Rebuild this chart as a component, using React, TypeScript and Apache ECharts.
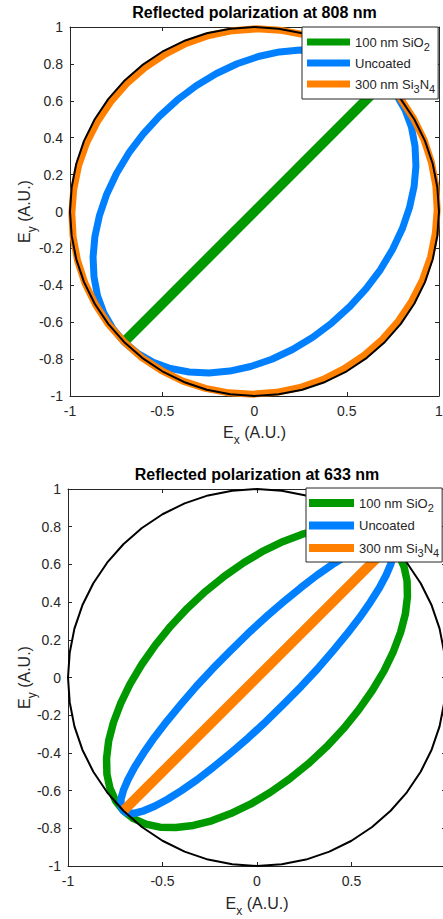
import { useEffect, useRef } from 'react';
import * as echarts from 'echarts';

type Pt = [number, number];

// ---- data ----
const titles = ['Reflected polarization at 808 nm', 'Reflected polarization at 633 nm'];
const seriesNames = ['100 nm SiO2', 'Uncoated', '300 nm Si3N4'];
const legendLabels = ['100 nm SiO{s|2}', 'Uncoated', '300 nm Si{s|3}N{s|4}'];
const seriesColors = ['#009900', '#0080ff', '#ff8000'];
const xTickStep = 0.5;
const yTickStep = 0.2;
const axisMin = -1;
const axisMax = 1;

// reference unit circle (black)
const unitCircle: Pt[] = [
  [1, 0], [0.991, 0.131], [0.966, 0.259], [0.924, 0.383], [0.866, 0.5], [0.793, 0.609],
  [0.707, 0.707], [0.609, 0.793], [0.5, 0.866], [0.383, 0.924], [0.259, 0.966], [0.131, 0.991],
  [0, 1], [-0.131, 0.991], [-0.259, 0.966], [-0.383, 0.924], [-0.5, 0.866], [-0.609, 0.793],
  [-0.707, 0.707], [-0.793, 0.609], [-0.866, 0.5], [-0.924, 0.383], [-0.966, 0.259], [-0.991, 0.131],
  [-1, 0], [-0.991, -0.131], [-0.966, -0.259], [-0.924, -0.383], [-0.866, -0.5], [-0.793, -0.609],
  [-0.707, -0.707], [-0.609, -0.793], [-0.5, -0.866], [-0.383, -0.924], [-0.259, -0.966], [-0.131, -0.991],
  [0, -1], [0.131, -0.991], [0.259, -0.966], [0.383, -0.924], [0.5, -0.866], [0.609, -0.793],
  [0.707, -0.707], [0.793, -0.609], [0.866, -0.5], [0.924, -0.383], [0.966, -0.259], [0.991, -0.131],
];

// 808 nm
const sio2At808: Pt[] = [[-0.707, -0.707], [0.707, 0.707]];
const uncoatedAt808: Pt[] = [
  [0.707, 0.707], [0.634, 0.768], [0.549, 0.817], [0.456, 0.851], [0.354, 0.87], [0.247, 0.875],
  [0.135, 0.865], [0.021, 0.84], [-0.094, 0.801], [-0.206, 0.748], [-0.316, 0.682], [-0.419, 0.604],
  [-0.516, 0.516], [-0.604, 0.419], [-0.682, 0.316], [-0.748, 0.206], [-0.801, 0.094], [-0.84, -0.021],
  [-0.865, -0.135], [-0.875, -0.247], [-0.87, -0.354], [-0.851, -0.456], [-0.817, -0.549], [-0.768, -0.634],
  [-0.707, -0.707], [-0.634, -0.768], [-0.549, -0.817], [-0.456, -0.851], [-0.354, -0.87], [-0.247, -0.875],
  [-0.135, -0.865], [-0.021, -0.84], [0.094, -0.801], [0.206, -0.748], [0.316, -0.682], [0.419, -0.604],
  [0.516, -0.516], [0.604, -0.419], [0.682, -0.316], [0.748, -0.206], [0.801, -0.094], [0.84, 0.021],
  [0.865, 0.135], [0.875, 0.247], [0.87, 0.354], [0.851, 0.456], [0.817, 0.549], [0.768, 0.634],
];
const si3n4At808: Pt[] = [
  [0.707, 0.707], [0.611, 0.792], [0.504, 0.862], [0.388, 0.919], [0.266, 0.959], [0.139, 0.983],
  [0.01, 0.99], [-0.119, 0.98], [-0.247, 0.954], [-0.37, 0.911], [-0.486, 0.852], [-0.595, 0.779],
  [-0.693, 0.693], [-0.779, 0.595], [-0.852, 0.486], [-0.911, 0.37], [-0.954, 0.247], [-0.98, 0.119],
  [-0.99, -0.01], [-0.983, -0.139], [-0.959, -0.266], [-0.919, -0.388], [-0.862, -0.504], [-0.792, -0.611],
  [-0.707, -0.707], [-0.611, -0.792], [-0.504, -0.862], [-0.388, -0.919], [-0.266, -0.959], [-0.139, -0.983],
  [-0.01, -0.99], [0.119, -0.98], [0.247, -0.954], [0.37, -0.911], [0.486, -0.852], [0.595, -0.779],
  [0.693, -0.693], [0.779, -0.595], [0.852, -0.486], [0.911, -0.37], [0.954, -0.247], [0.98, -0.119],
  [0.99, 0.01], [0.983, 0.139], [0.959, 0.266], [0.919, 0.388], [0.862, 0.504], [0.792, 0.611],
];

// 633 nm
const sio2At633: Pt[] = [
  [0.707, 0.707], [0.653, 0.749], [0.588, 0.778], [0.513, 0.794], [0.429, 0.796], [0.337, 0.785],
  [0.24, 0.76], [0.139, 0.722], [0.035, 0.672], [-0.069, 0.61], [-0.172, 0.538], [-0.272, 0.457],
  [-0.368, 0.368], [-0.457, 0.272], [-0.538, 0.172], [-0.61, 0.069], [-0.672, -0.035], [-0.722, -0.139],
  [-0.76, -0.24], [-0.785, -0.337], [-0.796, -0.429], [-0.794, -0.513], [-0.778, -0.588], [-0.749, -0.653],
  [-0.707, -0.707], [-0.653, -0.749], [-0.588, -0.778], [-0.513, -0.794], [-0.429, -0.796], [-0.337, -0.785],
  [-0.24, -0.76], [-0.139, -0.722], [-0.035, -0.672], [0.069, -0.61], [0.172, -0.538], [0.272, -0.457],
  [0.368, -0.368], [0.457, -0.272], [0.538, -0.172], [0.61, -0.069], [0.672, 0.035], [0.722, 0.139],
  [0.76, 0.24], [0.785, 0.337], [0.796, 0.429], [0.794, 0.513], [0.778, 0.588], [0.749, 0.653],
];
const uncoatedAt633: Pt[] = [
  [0.707, 0.707], [0.683, 0.72], [0.646, 0.72], [0.599, 0.707], [0.542, 0.683], [0.475, 0.647],
  [0.4, 0.6], [0.318, 0.543], [0.231, 0.476], [0.14, 0.401], [0.046, 0.32], [-0.048, 0.233],
  [-0.141, 0.141], [-0.233, 0.048], [-0.32, -0.046], [-0.401, -0.14], [-0.476, -0.231], [-0.543, -0.318],
  [-0.6, -0.4], [-0.647, -0.475], [-0.683, -0.542], [-0.707, -0.599], [-0.72, -0.646], [-0.72, -0.683],
  [-0.707, -0.707], [-0.683, -0.72], [-0.646, -0.72], [-0.599, -0.707], [-0.542, -0.683], [-0.475, -0.647],
  [-0.4, -0.6], [-0.318, -0.543], [-0.231, -0.476], [-0.14, -0.401], [-0.046, -0.32], [0.048, -0.233],
  [0.141, -0.141], [0.233, -0.048], [0.32, 0.046], [0.401, 0.14], [0.476, 0.231], [0.543, 0.318],
  [0.6, 0.4], [0.647, 0.475], [0.683, 0.542], [0.707, 0.599], [0.72, 0.646], [0.72, 0.683],
];
const si3n4At633: Pt[] = [[-0.707, -0.707], [0.707, 0.707]];

// ---- styling / layout ----
const FONT = "'Liberation Sans', Arial, Helvetica, sans-serif";
const TEXT = '#262626';
const AXIS = '#262626';

const closeLoop = (pts: Pt[]): Pt[] => (pts.length > 2 ? [...pts, pts[0]] : pts);

const panels = [
  {
    title: titles[0],
    titleLeft: 254.5,
    titleTop: 4.5,
    grid: { left: 70, top: 27, width: 369, height: 369 },
    xNameGap: 27,
    yNameGap: 36.5,
    showMaxX: true,
    legend: { left: 302, top: 27, padding: [5, 3, 5, 5], itemGap: 1, itemWidth: 43, itemHeight: 7 },
    curves: [sio2At808, uncoatedAt808, si3n4At808],
    widths: [10, 7, 7],
  },
  {
    title: titles[1],
    titleLeft: 257,
    titleTop: 466.5,
    grid: { left: 68, top: 489, width: 378, height: 377 },
    xNameGap: 28,
    yNameGap: 35,
    showMaxX: false,
    legend: { left: 306, top: 488, padding: [5, 3, 4, 3], itemGap: 2.5, itemWidth: 45, itemHeight: 8 },
    curves: [sio2At633, uncoatedAt633, si3n4At633],
    widths: [7.5, 7.5, 10],
  },
];

const nameStyle = {
  fontSize: 16,
  color: TEXT,
  fontFamily: FONT,
  rich: {
    m: { fontSize: 16, lineHeight: 18, color: TEXT, fontFamily: FONT },
    s: { fontSize: 12, lineHeight: 12, padding: [15, 0, 0, 0], color: TEXT, fontFamily: FONT },
  },
};

function buildOption() {
  const grid: any[] = [];
  const xAxis: any[] = [];
  const yAxis: any[] = [];
  const title: any[] = [];
  const legend: any[] = [];
  const series: any[] = [];

  const baseAxis = (gi: number, interval: number) => ({
    type: 'value',
    gridIndex: gi,
    min: axisMin,
    max: axisMax,
    interval,
    splitLine: { show: false },
    axisLine: { show: true, onZero: false, lineStyle: { color: AXIS, width: 1 } },
    axisTick: { show: true, inside: true, length: 4, lineStyle: { color: AXIS, width: 1 } },
  });

  panels.forEach((p, gi) => {
    grid.push({ ...p.grid, containLabel: false, outerBoundsMode: 'none' });
    title.push({
      text: p.title,
      left: p.titleLeft,
      top: p.titleTop,
      textAlign: 'center',
      padding: 0,
      textStyle: { fontSize: 16, fontWeight: 'bold', color: '#000', fontFamily: FONT },
    });
    xAxis.push({
      ...baseAxis(gi, xTickStep),
      position: 'bottom',
      axisLabel: {
        show: true,
        fontSize: 14,
        color: TEXT,
        fontFamily: FONT,
        margin: 8,
        showMaxLabel: p.showMaxX,
      },
      name: '{m|E}{s|x}{m| (A.U.)}',
      nameLocation: 'middle',
      nameGap: p.xNameGap,
      nameTextStyle: nameStyle,
      nameMoveOverlap: false,
    });
    xAxis.push({
      ...baseAxis(gi, xTickStep),
      position: 'top',
      axisLabel: { show: false },
    });
    yAxis.push({
      ...baseAxis(gi, yTickStep),
      position: 'left',
      axisLabel: { show: true, fontSize: 14, color: TEXT, fontFamily: FONT, margin: 7 },
      name: '{m|E}{s|y}{m| (A.U.)}',
      nameLocation: 'middle',
      nameGap: p.yNameGap,
      nameTextStyle: nameStyle,
      nameMoveOverlap: false,
    });
    yAxis.push({
      ...baseAxis(gi, yTickStep),
      position: 'right',
      axisLabel: { show: false },
    });

    p.curves.forEach((pts, si) => {
      series.push({
        type: 'line',
        name: seriesNames[si],
        xAxisIndex: gi * 2,
        yAxisIndex: gi * 2,
        data: closeLoop(pts),
        smooth: false,
        symbol: 'none',
        showSymbol: false,
        clip: false,
        silent: true,
        color: seriesColors[si],
        itemStyle: { color: seriesColors[si] },
        lineStyle: { color: seriesColors[si], width: p.widths[si], cap: 'butt', join: 'round' },
      });
    });
    series.push({
      type: 'line',
      name: 'unit circle',
      xAxisIndex: gi * 2,
      yAxisIndex: gi * 2,
      data: closeLoop(unitCircle),
      smooth: false,
      symbol: 'none',
      showSymbol: false,
      clip: false,
      silent: true,
      color: '#000',
      itemStyle: { color: '#000' },
      lineStyle: { color: '#000', width: 2, join: 'round' },
    });

    legend.push({
      show: true,
      orient: 'vertical',
      left: p.legend.left,
      top: p.legend.top,
      padding: p.legend.padding,
      itemGap: p.legend.itemGap,
      itemWidth: p.legend.itemWidth,
      itemHeight: p.legend.itemHeight,
      icon: 'rect',
      data: seriesNames,
      selectedMode: false,
      formatter: (name: string) => legendLabels[seriesNames.indexOf(name)],
      backgroundColor: '#fff',
      borderColor: '#262626',
      borderWidth: 1,
      borderRadius: 0,
      itemStyle: { borderWidth: 0 },
      textStyle: {
        fontSize: 13,
        color: TEXT,
        fontFamily: FONT,
        lineHeight: 20,
        rich: {
          s: { fontSize: 11, lineHeight: 11, padding: [9, 0, 0, 0], color: TEXT, fontFamily: FONT },
        },
      },
    });
  });

  return {
    animation: false,
    backgroundColor: '#fff',
    title,
    grid,
    xAxis,
    yAxis,
    legend,
    series,
  };
}

export default function App() {
  const ref = useRef<HTMLDivElement>(null);
  useEffect(() => {
    if (!ref.current) return;
    const chart = echarts.init(ref.current, null, { renderer: 'svg' });
    chart.setOption(buildOption() as any);
    return () => chart.dispose();
  }, []);
  return (
    <div
      ref={ref}
      style={{ position: 'absolute', left: 0, top: 0, width: 443, height: 919, background: '#fff' }}
    />
  );
}
